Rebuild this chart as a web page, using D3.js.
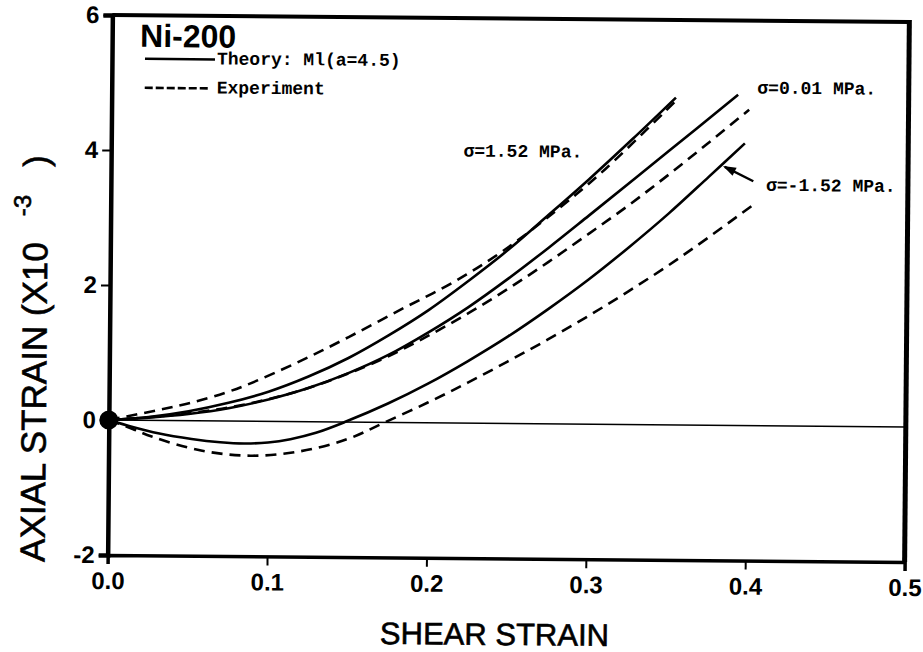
<!DOCTYPE html>
<html>
<head>
<meta charset="utf-8">
<script src="https://cdn.jsdelivr.net/npm/d3@7"></script>
<style>
  html, body { margin: 0; padding: 0; background: #fff; }
  svg { display: block; }
</style>
</head>
<body>
<svg id="chart" width="923" height="652"></svg>
<script>
// ---------------- data (shear strain, axial strain x10^-3) ----------------
const xTicks = [0.0, 0.1, 0.2, 0.3, 0.4, 0.5];
const xTickLabels = ["0.0", "0.1", "0.2", "0.3", "0.4", "0.5"];
const yTicks = [-2, 0, 2, 4, 6];
const yTickLabels = ["-2", "0", "2", "4", "6"];

const theoryP152 = [[0,0],[0.025,0.05],[0.05,0.14],[0.075,0.27],[0.1,0.44],[0.125,0.67],[0.15,0.95],[0.175,1.29],[0.2,1.67],[0.225,2.11],[0.25,2.58],[0.275,3.1],[0.3,3.63],[0.327,4.23],[0.354,4.85]];
const exptP152   = [[0,0],[0.03,0.15],[0.052,0.27],[0.073,0.42],[0.0875,0.55],[0.12,0.9],[0.15,1.26],[0.183,1.68],[0.215,2.08],[0.246,2.55],[0.28,3.17],[0.31,3.78],[0.353,4.78]];
const theoryP001 = [[0,0],[0.025,0.04],[0.05,0.1],[0.075,0.19],[0.1,0.325],[0.125,0.5],[0.15,0.725],[0.175,1.0],[0.2,1.34],[0.225,1.72],[0.25,2.15],[0.275,2.61],[0.3,3.09],[0.35,4.06],[0.393,4.9]];
const exptP001   = [[0,0],[0.025,0.045],[0.05,0.11],[0.075,0.2],[0.1,0.33],[0.125,0.5],[0.15,0.72],[0.175,0.98],[0.2,1.29],[0.225,1.63],[0.25,2.0],[0.275,2.4],[0.3,2.82],[0.325,3.25],[0.35,3.71],[0.375,4.19],[0.4,4.68]];
const theoryM152 = [[0,0],[0.015,-0.1],[0.031,-0.19],[0.052,-0.27],[0.07,-0.315],[0.085,-0.33],[0.1,-0.312],[0.114,-0.26],[0.13,-0.162],[0.148,0],[0.175,0.28],[0.2,0.58],[0.225,0.92],[0.25,1.29],[0.275,1.7],[0.3,2.14],[0.325,2.62],[0.35,3.13],[0.375,3.68],[0.3975,4.18]];
const exptM152   = [[0,0],[0.015,-0.13],[0.027,-0.24],[0.058,-0.44],[0.089,-0.51],[0.12,-0.44],[0.15,-0.25],[0.173,0],[0.2,0.3],[0.225,0.6],[0.25,0.92],[0.275,1.25],[0.3,1.6],[0.325,1.97],[0.35,2.36],[0.375,2.78],[0.403,3.27]];

const seriesList = [
  {name: "theory 1.52",  values: theoryP152, dashed: false},
  {name: "expt 1.52",    values: exptP152,   dashed: true},
  {name: "theory 0.01",  values: theoryP001, dashed: false},
  {name: "expt 0.01",    values: exptP001,   dashed: true},
  {name: "theory -1.52", values: theoryM152, dashed: false},
  {name: "expt -1.52",   values: exptM152,   dashed: true}
];

const curveLabels = [
  {text: "\u03c3=1.52 MPa.",  x: 0.221, y: 3.95},
  {text: "\u03c3=0.01 MPa.",  x: 0.405, y: 4.92},
  {text: "\u03c3=-1.52 MPa.", x: 0.411, y: 3.48}
];

// ---------------- drawing ----------------
(function () {
const svg = d3.select("#chart");
svg.append("rect").attr("width", 923).attr("height", 652).attr("fill", "#fff");

const pl = 110, pr = 907, pt = 18.5, pb = 558.5;
const x = d3.scaleLinear().domain([0, 0.5]).range([pl, pr]);
const y = d3.scaleLinear().domain([-2, 6]).range([pb, pt]);

// the scanned figure is slightly rotated
const g = svg.append("g").attr("transform", `rotate(0.5, ${(pl+pr)/2}, ${(pt+pb)/2})`);

const sans = "'Liberation Sans', Arial, Helvetica, sans-serif";
const mono = "'Liberation Mono', 'Courier New', monospace";

// frame
g.append("line").attr("x1", pl).attr("x2", pr).attr("y1", pt).attr("y2", pt)
  .attr("stroke", "#000").attr("stroke-width", 4);
g.append("line").attr("x1", pr).attr("x2", pr).attr("y1", pt - 2).attr("y2", pb)
  .attr("stroke", "#000").attr("stroke-width", 5);

// axes
const xAxis = d3.axisBottom(x).tickValues(xTicks)
  .tickFormat((d, i) => xTickLabels[i]).tickSize(9).tickPadding(8);
const yAxis = d3.axisLeft(y).tickValues(yTicks)
  .tickFormat((d, i) => yTickLabels[i]).tickSize(9).tickPadding(4);

const gx = g.append("g").attr("transform", `translate(0,${pb})`).call(xAxis);
const gy = g.append("g").attr("transform", `translate(${pl},0)`).call(yAxis);
gx.select(".domain").attr("stroke-width", 3.5);
gy.select(".domain").attr("stroke-width", 4.5);
[gx, gy].forEach(a => {
  a.selectAll(".tick line").attr("stroke-width", 2);
  a.selectAll(".tick text").attr("font-family", sans).attr("font-weight", "bold")
    .attr("font-size", 24).attr("fill", "#000");
});

// zero reference line
g.append("line").attr("x1", x(0)).attr("x2", x(0.5)).attr("y1", y(0)).attr("y2", y(0))
  .attr("stroke", "#000").attr("stroke-width", 1.6);

// curves
const line = d3.line().x(d => x(d[0])).y(d => y(d[1])).curve(d3.curveCatmullRom.alpha(0.5));
g.selectAll("path.series").data(seriesList).enter().append("path")
  .attr("class", "series")
  .attr("d", d => line(d.values))
  .attr("fill", "none").attr("stroke", "#000").attr("stroke-width", 2.6)
  .attr("stroke-dasharray", d => d.dashed ? "11,7" : null);

// origin blob
g.append("circle").attr("cx", x(0)).attr("cy", y(0)).attr("r", 9.5).attr("fill", "#000");

// curve labels
g.selectAll("text.clab").data(curveLabels).enter().append("text")
  .attr("class", "clab")
  .attr("x", d => x(d.x)).attr("y", d => y(d.y))
  .attr("font-family", mono).attr("font-weight", "bold").attr("font-size", 18)
  .attr("fill", "#000").text(d => d.text);

// arrow pointing to sigma=-1.52 theory curve
const ax1 = 0.403, ay1 = 3.62, ax2 = 0.385, ay2 = 3.83;
g.append("line").attr("x1", x(ax1)).attr("y1", y(ay1)).attr("x2", x(ax2)).attr("y2", y(ay2))
  .attr("stroke", "#000").attr("stroke-width", 2.4);
{
  const X2 = x(ax2), Y2 = y(ay2), X1 = x(ax1), Y1 = y(ay1);
  const ang = Math.atan2(Y2 - Y1, X2 - X1);
  const L = 11, W = 4.5;
  const bx = X2 - L * Math.cos(ang), by = Y2 - L * Math.sin(ang);
  const px = -Math.sin(ang) * W, py = Math.cos(ang) * W;
  g.append("path")
    .attr("d", `M${X2 + 2*Math.cos(ang)},${Y2 + 2*Math.sin(ang)}L${bx + px},${by + py}L${bx - px},${by - py}Z`)
    .attr("fill", "#000");
}

// title and legend
g.append("text").attr("x", 138).attr("y", 50)
  .attr("font-family", sans).attr("font-weight", "bold").attr("font-size", 32)
  .attr("fill", "#000").text("Ni-200");

const legend = [
  {text: "Theory: Ml(a=4.5)", dashed: false, ly: 62},
  {text: "Experiment", dashed: true, ly: 91}
];
legend.forEach(l => {
  g.append("line").attr("x1", 143).attr("x2", l.dashed ? 207 : 213).attr("y1", l.ly).attr("y2", l.ly)
    .attr("stroke", "#000").attr("stroke-width", 2.6)
    .attr("stroke-dasharray", l.dashed ? "8,3" : null);
  g.append("text").attr("x", 215).attr("y", l.ly + 5)
    .attr("font-family", mono).attr("font-weight", "bold").attr("font-size", 18)
    .attr("fill", "#000").text(l.text);
});

// axis titles
g.append("text").attr("x", (pl + pr) / 2 - 11).attr("y", 645)
  .attr("text-anchor", "middle").attr("font-family", sans).attr("font-size", 31)
  .attr("fill", "#000").attr("stroke", "#000").attr("stroke-width", 0.6)
  .text("SHEAR STRAIN");

const yl = g.append("text")
  .attr("transform", `translate(47, 566) rotate(-90)`)
  .attr("text-anchor", "start").attr("font-family", sans).attr("font-size", 35)
  .attr("fill", "#000").attr("stroke", "#000").attr("stroke-width", 0.6);
yl.append("tspan").text("AXIAL STRAIN (X10");
yl.append("tspan").attr("dy", -17).attr("font-size", 24).attr("dx", 26).text("-3");
yl.append("tspan").attr("dy", 17).attr("dx", 28).text(")");
})();
</script>
</body>
</html>
